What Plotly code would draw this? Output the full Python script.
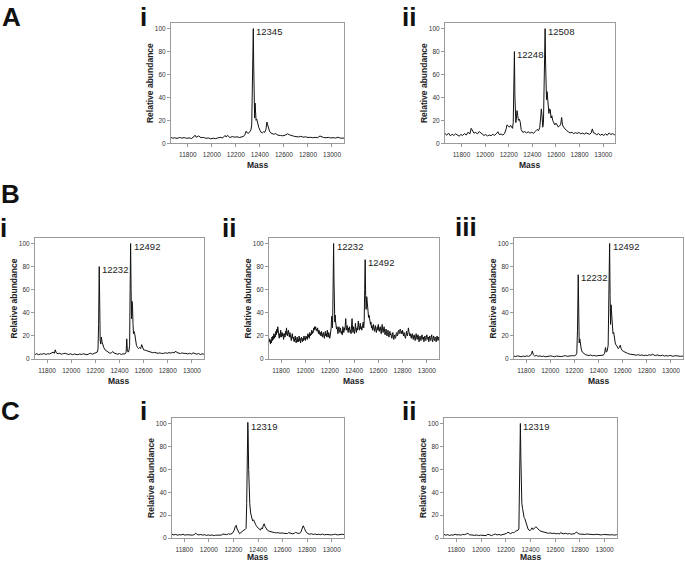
import plotly.graph_objects as go

W, H = 685, 566

# (mass, relative abundance)
a_i = [
    (11660, 5.0), (11675, 4.4), (11690, 4.8), (11710, 4.2), (11730, 5.0), (11750, 4.5), (11770, 4.9),
    (11790, 4.3), (11810, 4.7), (11830, 4.1), (11850, 5.6), (11860, 7.0), (11870, 5.2), (11890, 6.4),
    (11910, 4.8), (11930, 5.1), (11950, 4.3), (11970, 4.6), (11990, 3.9), (12010, 4.4), (12030, 4.0),
    (12050, 4.8), (12070, 5.2), (12090, 4.6), (12110, 6.8), (12120, 5.4), (12130, 6.9), (12150, 5.0),
    (12170, 5.8), (12190, 5.3), (12210, 5.6), (12230, 5.0), (12250, 5.4), (12265, 6.0), (12275, 7.5),
    (12285, 10.5), (12295, 9.0), (12305, 8.6), (12315, 10.0), (12325, 11.5), (12332, 16), (12338, 45),
    (12342, 82), (12345, 100), (12348, 70), (12352, 30), (12356, 22), (12360, 35), (12364, 28),
    (12368, 20), (12374, 21), (12382, 17), (12390, 14), (12400, 11.5), (12410, 9.5), (12420, 9.0),
    (12430, 10.0), (12440, 9.5), (12450, 12.0), (12458, 18.5), (12465, 15.0), (12472, 11.5),
    (12480, 10.5), (12490, 9.0), (12500, 8.5), (12515, 7.8), (12530, 8.4), (12550, 7.0), (12570, 6.8),
    (12590, 6.5), (12610, 7.0), (12630, 8.2), (12645, 7.4), (12660, 6.6), (12680, 6.2), (12700, 5.8),
    (12720, 5.5), (12740, 6.0), (12760, 5.3), (12780, 5.6), (12800, 5.0), (12820, 5.2), (12840, 4.8),
    (12860, 5.1), (12880, 4.9), (12900, 6.3), (12915, 5.4), (12930, 5.0), (12950, 4.8), (12970, 5.1),
    (12990, 4.6), (13010, 4.9), (13030, 4.5), (13050, 5.3), (13070, 4.4), (13090, 4.7), (13100, 4.5),
]

a_ii = [
    (11660, 8.5), (11675, 7.0), (11690, 8.8), (11705, 6.5), (11720, 7.8), (11735, 6.8), (11750, 8.2),
    (11765, 7.0), (11780, 6.2), (11795, 7.6), (11810, 6.8), (11825, 8.4), (11840, 7.2), (11855, 9.6),
    (11870, 8.0), (11882, 13.0), (11892, 10.5), (11905, 8.8), (11920, 9.4), (11935, 8.2), (11950, 10.2),
    (11962, 9.0), (11975, 7.4), (11990, 6.8), (12005, 7.6), (12020, 6.4), (12035, 7.2), (12050, 6.6),
    (12065, 7.8), (12080, 6.8), (12095, 8.4), (12108, 10.0), (12120, 7.6), (12135, 8.0), (12150, 7.2),
    (12165, 8.6), (12178, 12.5), (12185, 16.0), (12195, 15.2), (12205, 14.0), (12215, 15.6),
    (12225, 14.2), (12232, 13.0), (12238, 18.0), (12243, 45), (12248, 80), (12252, 42), (12256, 22),
    (12260, 18), (12265, 22), (12270, 28.5), (12276, 24), (12282, 20), (12290, 21), (12298, 18),
    (12305, 12), (12312, 10), (12320, 9.4), (12335, 10.2), (12350, 9.0), (12365, 10.0), (12380, 8.8),
    (12395, 9.6), (12410, 8.6), (12425, 10.4), (12440, 12.0), (12452, 11.0), (12462, 13.5),
    (12470, 22), (12476, 30), (12482, 24), (12488, 14), (12494, 18), (12500, 45), (12505, 80),
    (12508, 100), (12512, 70), (12516, 40), (12520, 38), (12525, 45), (12530, 38), (12535, 28),
    (12540, 26), (12546, 30), (12552, 29), (12558, 22), (12565, 24), (12572, 20), (12580, 18),
    (12590, 16), (12600, 17.5), (12610, 15.0), (12620, 14.2), (12630, 15.0), (12640, 16.5),
    (12648, 22.5), (12655, 16.0), (12665, 14.0), (12675, 12.5), (12690, 11.0), (12705, 10.0),
    (12720, 9.0), (12735, 9.6), (12750, 8.4), (12765, 9.2), (12780, 8.6), (12795, 9.4), (12810, 8.2),
    (12825, 8.8), (12840, 8.0), (12855, 9.0), (12870, 8.2), (12885, 7.8), (12898, 9.0), (12908, 12.5),
    (12918, 9.0), (12930, 8.6), (12945, 7.4), (12960, 8.4), (12975, 7.0), (12990, 7.8), (13005, 6.8),
    (13020, 8.2), (13035, 7.0), (13050, 9.0), (13065, 7.6), (13080, 8.4), (13095, 7.4), (13100, 7.8),
]

b_i = [
    (11700, 4.0), (11715, 4.6), (11730, 3.8), (11745, 4.4), (11760, 4.2), (11775, 4.8), (11790, 4.0),
    (11805, 4.6), (11820, 4.4), (11835, 5.2), (11850, 6.0), (11860, 5.0), (11868, 8.0), (11876, 5.4),
    (11890, 4.6), (11905, 5.0), (11920, 4.2), (11935, 4.8), (11950, 5.0), (11965, 4.4), (11980, 4.0),
    (11995, 4.6), (12010, 3.8), (12025, 4.4), (12040, 4.2), (12055, 3.8), (12070, 4.4), (12085, 4.0),
    (12100, 4.6), (12115, 4.2), (12130, 3.8), (12145, 4.4), (12160, 5.0), (12175, 4.2), (12190, 4.8),
    (12205, 5.0), (12215, 6.0), (12222, 8.5), (12227, 30), (12232, 80), (12236, 40), (12240, 16),
    (12245, 13), (12250, 19), (12255, 15), (12262, 12), (12270, 10), (12280, 8), (12292, 7),
    (12305, 5.5), (12320, 5.0), (12335, 5.6), (12345, 6.5), (12355, 5.2), (12370, 4.6), (12385, 4.2),
    (12400, 4.8), (12415, 4.0), (12430, 4.6), (12445, 4.4), (12455, 6), (12460, 17.5), (12465, 8),
    (12472, 6), (12478, 7), (12484, 12), (12488, 60), (12492, 100), (12496, 60), (12500, 35),
    (12504, 50), (12508, 45), (12512, 30), (12516, 22), (12520, 24), (12526, 22), (12532, 15),
    (12540, 12), (12550, 10), (12558, 9), (12566, 10), (12575, 9), (12584, 12.5), (12592, 9),
    (12600, 8), (12615, 7.6), (12630, 7), (12645, 6.4), (12660, 6.0), (12675, 5.5), (12690, 5.8),
    (12705, 5.2), (12720, 5.0), (12735, 5.4), (12750, 4.8), (12765, 5.0), (12780, 5.4), (12795, 5.0),
    (12810, 5.6), (12825, 5.2), (12840, 5.8), (12855, 5.4), (12865, 7.0), (12875, 5.6), (12890, 5.2),
    (12905, 4.8), (12920, 5.4), (12935, 4.8), (12950, 5.0), (12965, 4.4), (12980, 5.0), (12995, 4.4),
    (13010, 5.4), (13025, 4.6), (13040, 4.2), (13055, 4.8), (13070, 4.0), (13085, 4.6), (13100, 4.2),
]

b_ii = [
    (11700, 18), (11704, 15), (11708, 17), (11712, 13), (11716, 16), (11720, 14), (11724, 19),
    (11728, 16), (11732, 20), (11736, 17), (11740, 22), (11744, 18), (11748, 21), (11752, 19),
    (11756, 24), (11760, 21), (11764, 26), (11768, 23), (11772, 28), (11776, 24), (11780, 21),
    (11784, 18), (11788, 22), (11792, 19), (11796, 25), (11800, 21), (11804, 19), (11808, 23),
    (11812, 20), (11816, 22), (11820, 17), (11824, 20), (11828, 22), (11832, 19), (11836, 24),
    (11840, 21), (11844, 27), (11848, 22), (11852, 20), (11856, 24), (11860, 25), (11864, 21),
    (11868, 19), (11872, 23), (11876, 20), (11880, 18), (11884, 16), (11888, 20), (11892, 22),
    (11896, 18), (11900, 19), (11904, 16), (11908, 15), (11912, 18), (11916, 20), (11920, 16),
    (11924, 14), (11928, 17), (11932, 19), (11936, 15), (11940, 17), (11944, 15), (11948, 20),
    (11952, 16), (11956, 18), (11960, 14), (11964, 16), (11968, 19), (11972, 17), (11976, 15),
    (11980, 18), (11984, 16), (11988, 20), (11992, 17), (11996, 18), (12000, 16), (12004, 20),
    (12008, 18), (12012, 19), (12016, 17), (12020, 22), (12024, 19), (12028, 21), (12032, 18),
    (12036, 23), (12040, 20), (12044, 22), (12048, 21), (12052, 25), (12056, 22), (12060, 24),
    (12064, 23), (12068, 27), (12072, 25), (12076, 28), (12080, 26), (12084, 28), (12088, 25),
    (12092, 26), (12096, 24), (12100, 27), (12104, 24), (12108, 22), (12112, 25), (12116, 23),
    (12120, 21), (12124, 23), (12128, 20), (12132, 24), (12136, 21), (12140, 19), (12144, 22),
    (12148, 23), (12152, 20), (12156, 18), (12160, 22), (12164, 24), (12168, 20), (12172, 22),
    (12176, 19), (12180, 25), (12184, 21), (12188, 19), (12192, 23), (12196, 21), (12200, 18),
    (12204, 20), (12208, 22), (12212, 27), (12216, 37), (12220, 30), (12223, 27), (12226, 45),
    (12229, 75), (12232, 100), (12235, 70), (12238, 45), (12242, 32), (12245, 38), (12248, 33),
    (12252, 29), (12256, 26), (12260, 28), (12264, 24), (12268, 22), (12272, 26), (12276, 28),
    (12280, 24), (12284, 23), (12288, 27), (12292, 25), (12296, 22), (12300, 24), (12304, 21),
    (12308, 28), (12312, 25), (12316, 23), (12320, 27), (12324, 25), (12328, 29), (12332, 35),
    (12336, 27), (12340, 25), (12344, 29), (12348, 26), (12352, 23), (12356, 27), (12360, 25),
    (12364, 28), (12368, 23), (12372, 25), (12376, 22), (12380, 27), (12384, 35), (12388, 26),
    (12392, 23), (12396, 28), (12400, 25), (12404, 22), (12408, 26), (12412, 31), (12416, 25),
    (12420, 23), (12424, 27), (12428, 25), (12432, 29), (12436, 33), (12440, 27), (12444, 25),
    (12448, 29), (12452, 31), (12456, 26), (12460, 28), (12464, 25), (12468, 27), (12472, 29),
    (12476, 32), (12480, 27), (12484, 33), (12488, 60), (12492, 86), (12496, 55), (12500, 43),
    (12505, 54), (12510, 46), (12515, 40), (12520, 36), (12524, 38), (12528, 33), (12532, 35),
    (12536, 30), (12540, 32), (12544, 27), (12548, 29), (12552, 25), (12556, 28), (12560, 30),
    (12564, 26), (12568, 24), (12572, 27), (12576, 29), (12580, 25), (12584, 23), (12588, 26),
    (12592, 28), (12596, 25), (12600, 30), (12604, 26), (12608, 24), (12612, 27), (12616, 28),
    (12620, 25), (12624, 22), (12628, 26), (12632, 30), (12636, 25), (12640, 23), (12644, 26),
    (12648, 28), (12652, 24), (12656, 21), (12660, 24), (12664, 26), (12668, 22), (12672, 20),
    (12676, 23), (12680, 25), (12684, 21), (12688, 19), (12692, 22), (12696, 24), (12700, 21),
    (12704, 22), (12708, 19), (12712, 18), (12716, 21), (12720, 23), (12724, 19), (12728, 17),
    (12732, 20), (12736, 21), (12740, 18), (12744, 19), (12748, 22), (12752, 23), (12756, 20),
    (12760, 21), (12764, 24), (12768, 25), (12772, 22), (12776, 23), (12780, 26), (12784, 25),
    (12788, 22), (12792, 24), (12796, 22), (12800, 25), (12804, 22), (12808, 20), (12812, 23),
    (12816, 22), (12820, 19), (12824, 18), (12828, 21), (12832, 24), (12836, 21), (12840, 20),
    (12844, 23), (12848, 27), (12852, 24), (12856, 22), (12860, 20), (12864, 22), (12868, 19),
    (12872, 18), (12876, 21), (12880, 22), (12884, 19), (12888, 17), (12892, 20), (12896, 21),
    (12900, 18), (12904, 16), (12908, 19), (12912, 22), (12916, 19), (12920, 17), (12924, 20),
    (12928, 21), (12932, 17), (12936, 15), (12940, 18), (12944, 20), (12948, 17), (12952, 16),
    (12956, 19), (12960, 21), (12964, 18), (12968, 17), (12972, 19), (12976, 15), (12980, 18),
    (12984, 20), (12988, 17), (12992, 16), (12996, 19), (13000, 21), (13004, 18), (13008, 17),
    (13012, 19), (13016, 15), (13020, 18), (13024, 20), (13028, 17), (13032, 16), (13036, 19),
    (13040, 21), (13044, 17), (13048, 15), (13052, 18), (13056, 20), (13060, 17), (13064, 16),
    (13068, 19), (13072, 18), (13076, 15), (13080, 17), (13084, 20), (13088, 18), (13092, 16),
    (13096, 19), (13100, 17),
]

b_iii = [
    (11700, 2.6), (11715, 2.2), (11730, 2.8), (11745, 2.4), (11760, 2.0), (11775, 2.6), (11790, 2.2),
    (11805, 2.8), (11820, 2.4), (11835, 3.0), (11845, 4.5), (11852, 7.0), (11860, 3.8), (11872, 2.6),
    (11885, 3.2), (11900, 2.4), (11915, 2.8), (11930, 2.2), (11945, 2.6), (11960, 2.0), (11975, 2.4),
    (11990, 2.2), (12005, 2.8), (12020, 2.4), (12035, 2.0), (12050, 2.6), (12065, 2.4), (12080, 2.8),
    (12095, 2.2), (12110, 2.6), (12125, 3.0), (12140, 2.4), (12155, 2.8), (12170, 2.6), (12185, 3.0),
    (12200, 2.8), (12212, 3.4), (12220, 5.0), (12226, 25), (12232, 73), (12236, 40), (12240, 14),
    (12245, 17.5), (12250, 12), (12258, 8), (12266, 6), (12276, 5), (12290, 4), (12305, 3.4),
    (12320, 3.0), (12335, 3.6), (12350, 2.8), (12365, 3.2), (12380, 2.6), (12395, 3.0), (12410, 3.2),
    (12425, 3.8), (12440, 3.4), (12450, 5), (12458, 10), (12464, 6), (12472, 7), (12480, 12),
    (12486, 45), (12492, 100), (12496, 55), (12500, 30), (12504, 47), (12508, 40), (12514, 28),
    (12520, 22), (12526, 23), (12533, 16), (12540, 13), (12548, 12), (12556, 10), (12564, 9),
    (12572, 10), (12580, 12), (12588, 9), (12596, 7.5), (12610, 6.5), (12625, 5.5), (12640, 5.0),
    (12655, 4.4), (12670, 4.0), (12685, 4.2), (12700, 3.6), (12715, 3.4), (12730, 3.8), (12745, 3.2),
    (12760, 3.6), (12775, 3.0), (12790, 3.4), (12805, 3.0), (12820, 3.8), (12835, 3.2), (12845, 4.2),
    (12855, 3.4), (12870, 3.0), (12885, 3.6), (12900, 3.2), (12915, 2.8), (12930, 3.4), (12945, 2.6),
    (12960, 3.0), (12975, 2.6), (12990, 3.2), (13005, 2.8), (13020, 2.4), (13035, 3.0), (13050, 2.6),
    (13065, 2.8), (13080, 2.4), (13095, 2.6), (13100, 2.4),
]

c_i = [
    (11700, 3.4), (11715, 2.8), (11730, 3.2), (11745, 2.6), (11760, 3.0), (11775, 2.8), (11790, 3.4),
    (11805, 2.6), (11820, 3.0), (11835, 2.8), (11850, 3.2), (11865, 2.6), (11880, 3.0), (11893, 4.2),
    (11905, 3.2), (11920, 2.8), (11935, 3.2), (11950, 2.6), (11965, 3.0), (11980, 2.4), (11995, 2.8),
    (12010, 2.4), (12025, 2.8), (12040, 2.2), (12055, 2.6), (12070, 2.4), (12085, 2.8), (12100, 2.6),
    (12115, 3.6), (12130, 3.4), (12145, 3.0), (12160, 3.8), (12175, 3.4), (12190, 4.0), (12205, 6.5),
    (12215, 10.0), (12222, 11.2), (12230, 8.0), (12240, 5.0), (12250, 3.8), (12262, 5.0), (12275, 6.5),
    (12285, 7.0), (12295, 7.5), (12303, 8.5), (12308, 30), (12313, 70), (12317, 101), (12320, 90),
    (12324, 60), (12328, 40), (12333, 30), (12340, 22), (12348, 17), (12356, 15), (12364, 16),
    (12372, 13), (12380, 12), (12390, 10), (12400, 9), (12410, 8.5), (12420, 7.0), (12428, 9.0),
    (12436, 8.0), (12444, 11.5), (12450, 12.5), (12458, 10), (12466, 8), (12476, 7.0), (12490, 6.0),
    (12505, 5.4), (12520, 5.0), (12535, 4.8), (12550, 4.6), (12565, 4.8), (12580, 4.2), (12595, 4.6),
    (12610, 4.2), (12625, 4.4), (12640, 4.0), (12650, 4.8), (12665, 4.0), (12680, 3.8), (12695, 4.2),
    (12705, 5.0), (12720, 4.4), (12735, 4.0), (12748, 5.0), (12758, 7.5), (12768, 10.8), (12778, 8.5),
    (12790, 5.5), (12805, 4.0), (12820, 3.4), (12835, 3.8), (12850, 3.2), (12865, 3.6), (12880, 3.0),
    (12895, 3.4), (12910, 3.0), (12925, 3.6), (12940, 2.8), (12955, 3.2), (12970, 3.0), (12985, 3.4),
    (13000, 2.8), (13015, 3.2), (13030, 3.4), (13045, 2.8), (13060, 3.2), (13075, 3.0), (13090, 3.4),
    (13100, 3.0),
]

c_ii = [
    (11700, 3.2), (11715, 2.6), (11730, 3.0), (11745, 2.4), (11760, 2.8), (11775, 2.6), (11790, 3.4),
    (11805, 2.8), (11820, 3.0), (11835, 2.6), (11850, 3.2), (11865, 3.0), (11880, 3.6), (11893, 4.2),
    (11905, 3.0), (11920, 2.6), (11935, 2.8), (11950, 2.4), (11965, 2.8), (11980, 2.2), (11995, 2.6),
    (12010, 2.4), (12025, 2.8), (12040, 2.2), (12055, 3.4), (12070, 2.6), (12085, 2.2), (12100, 3.0),
    (12115, 3.6), (12130, 2.8), (12145, 3.2), (12160, 2.6), (12175, 3.0), (12190, 3.4), (12205, 4.0),
    (12218, 5.2), (12228, 4.6), (12240, 3.8), (12252, 5.0), (12265, 4.6), (12278, 6.0), (12290, 6.5),
    (12300, 7.0), (12306, 8), (12310, 40), (12314, 80), (12318, 100), (12322, 70), (12326, 40),
    (12330, 30), (12336, 26), (12342, 20), (12348, 18), (12354, 17), (12360, 15), (12366, 12),
    (12372, 9), (12380, 8), (12388, 7), (12396, 6.5), (12404, 7.5), (12412, 9.0), (12420, 7.5),
    (12428, 8.0), (12436, 9.0), (12444, 10.0), (12452, 9.0), (12460, 7.5), (12470, 7.0), (12485, 6.0),
    (12500, 5.6), (12515, 5.0), (12530, 4.8), (12545, 4.2), (12560, 4.6), (12575, 4.0), (12590, 4.4),
    (12605, 3.8), (12620, 4.0), (12635, 3.6), (12645, 5.0), (12655, 4.0), (12670, 3.8), (12685, 4.2),
    (12700, 3.6), (12715, 4.0), (12730, 3.4), (12745, 3.8), (12760, 4.0), (12772, 5.5), (12782, 4.2),
    (12795, 3.6), (12810, 3.4), (12825, 3.8), (12840, 3.2), (12855, 3.6), (12870, 3.4), (12885, 3.8),
    (12900, 3.2), (12915, 3.0), (12930, 3.4), (12945, 3.0), (12960, 3.2), (12975, 2.8), (12990, 3.2),
    (13005, 3.0), (13020, 2.8), (13035, 3.2), (13050, 2.8), (13065, 3.0), (13080, 2.6), (13095, 3.0),
    (13100, 2.8),
]

mass_ticks = [11800, 12000, 12200, 12400, 12600, 12800, 13000]
abund_ticks = [0, 20, 40, 60, 80, 100]

# spectrum, plot box in px (left, right, top, bottom), x range, peak labels (mass, height, text)
panels = [
    (a_i, (171, 344, 23, 144), [11660, 13100], [(12345, 100, "12345")]),
    (a_ii, (445, 615, 23, 144), [11660, 13100], [(12248, 80, "12248"), (12508, 100, "12508")]),
    (b_i, (35, 204, 239, 361), [11700, 13100], [(12232, 80, "12232"), (12492, 100, "12492")]),
    (b_ii, (269, 439, 239, 361), [11700, 13100], [(12232, 100, "12232"), (12492, 86, "12492")]),
    (b_iii, (514, 683, 239, 361), [11700, 13100], [(12232, 73, "12232"), (12492, 100, "12492")]),
    (c_i, (172, 344, 420, 541), [11700, 13100], [(12319, 100, "12319")]),
    (c_ii, (444, 617, 420, 541), [11700, 13100], [(12319, 100, "12319")]),
]

FONT = "Liberation Sans, Arial, sans-serif"
frame = "#9a9a9a"

fig = go.Figure()
annotations = []
layout = {}

for n, (spec, (x0, x1, y0, y1), xr, peaks) in enumerate(panels, start=1):
    sfx = "" if n == 1 else str(n)
    mass = [p[0] for p in spec]
    abund = [p[1] for p in spec]
    fig.add_trace(go.Scatter(x=mass, y=abund, mode="lines", xaxis="x" + sfx, yaxis="y" + sfx,
                             line=dict(color="#111111", width=1), showlegend=False, hoverinfo="skip"))
    common = dict(showline=True, linecolor=frame, linewidth=1, mirror=True, showgrid=False,
                  zeroline=False, ticks="outside", ticklen=3, tickcolor=frame, tickformat="d",
                  tickfont=dict(family=FONT, size=6.5, color="#333333"))
    layout["xaxis" + sfx] = dict(common, domain=[x0 / W, x1 / W], range=xr, tickvals=mass_ticks,
                                 anchor="y" + sfx, ticklabelstandoff=2)
    layout["yaxis" + sfx] = dict(common, domain=[(H - y1) / H, (H - y0) / H], range=[0, 105],
                                 tickvals=abund_ticks, anchor="x" + sfx)
    for pm, ph, txt in peaks:
        annotations.append(dict(x=pm, y=ph, xref="x" + sfx, yref="y" + sfx, text=txt, showarrow=False,
                                xanchor="left", yanchor="middle", xshift=1, yshift=-3,
                                font=dict(family=FONT, size=9.5, color="#222222")))
    # axis titles
    annotations.append(dict(x=(x0 - 21) / W, y=(H - (y0 + y1) / 2) / H, xref="paper", yref="paper",
                            text="<b>Relative abundance</b>", textangle=-90, showarrow=False,
                            xanchor="center", yanchor="middle",
                            font=dict(family=FONT, size=8.5, color="#222222")))
    annotations.append(dict(x=(x0 + x1) / 2 / W, y=(H - min(y1 + 22, 560)) / H, xref="paper", yref="paper",
                            text="<b>Mass</b>", showarrow=False, xanchor="center", yanchor="middle",
                            font=dict(family=FONT, size=8.5, color="#222222")))

# panel letters
letters = [("A", 11, 17), ("i", 143, 17), ("ii", 409, 17),
           ("B", 10, 195), ("i", 4, 229), ("ii", 229, 229), ("iii", 466, 228),
           ("C", 10, 413), ("i", 143, 413), ("ii", 409, 413)]
for txt, px, py in letters:
    annotations.append(dict(x=px / W, y=(H - py) / H, xref="paper", yref="paper", text="<b>" + txt + "</b>",
                            showarrow=False, xanchor="center", yanchor="middle",
                            font=dict(family=FONT, size=26, color="#111111")))

fig.update_layout(**layout)
fig.update_layout(width=W, height=H, margin=dict(l=0, r=0, t=0, b=0),
                  paper_bgcolor="white", plot_bgcolor="white", annotations=annotations)

fig.write_html("out.html", config={"displayModeBar": False},
               post_script="document.body.style.margin='0';")
